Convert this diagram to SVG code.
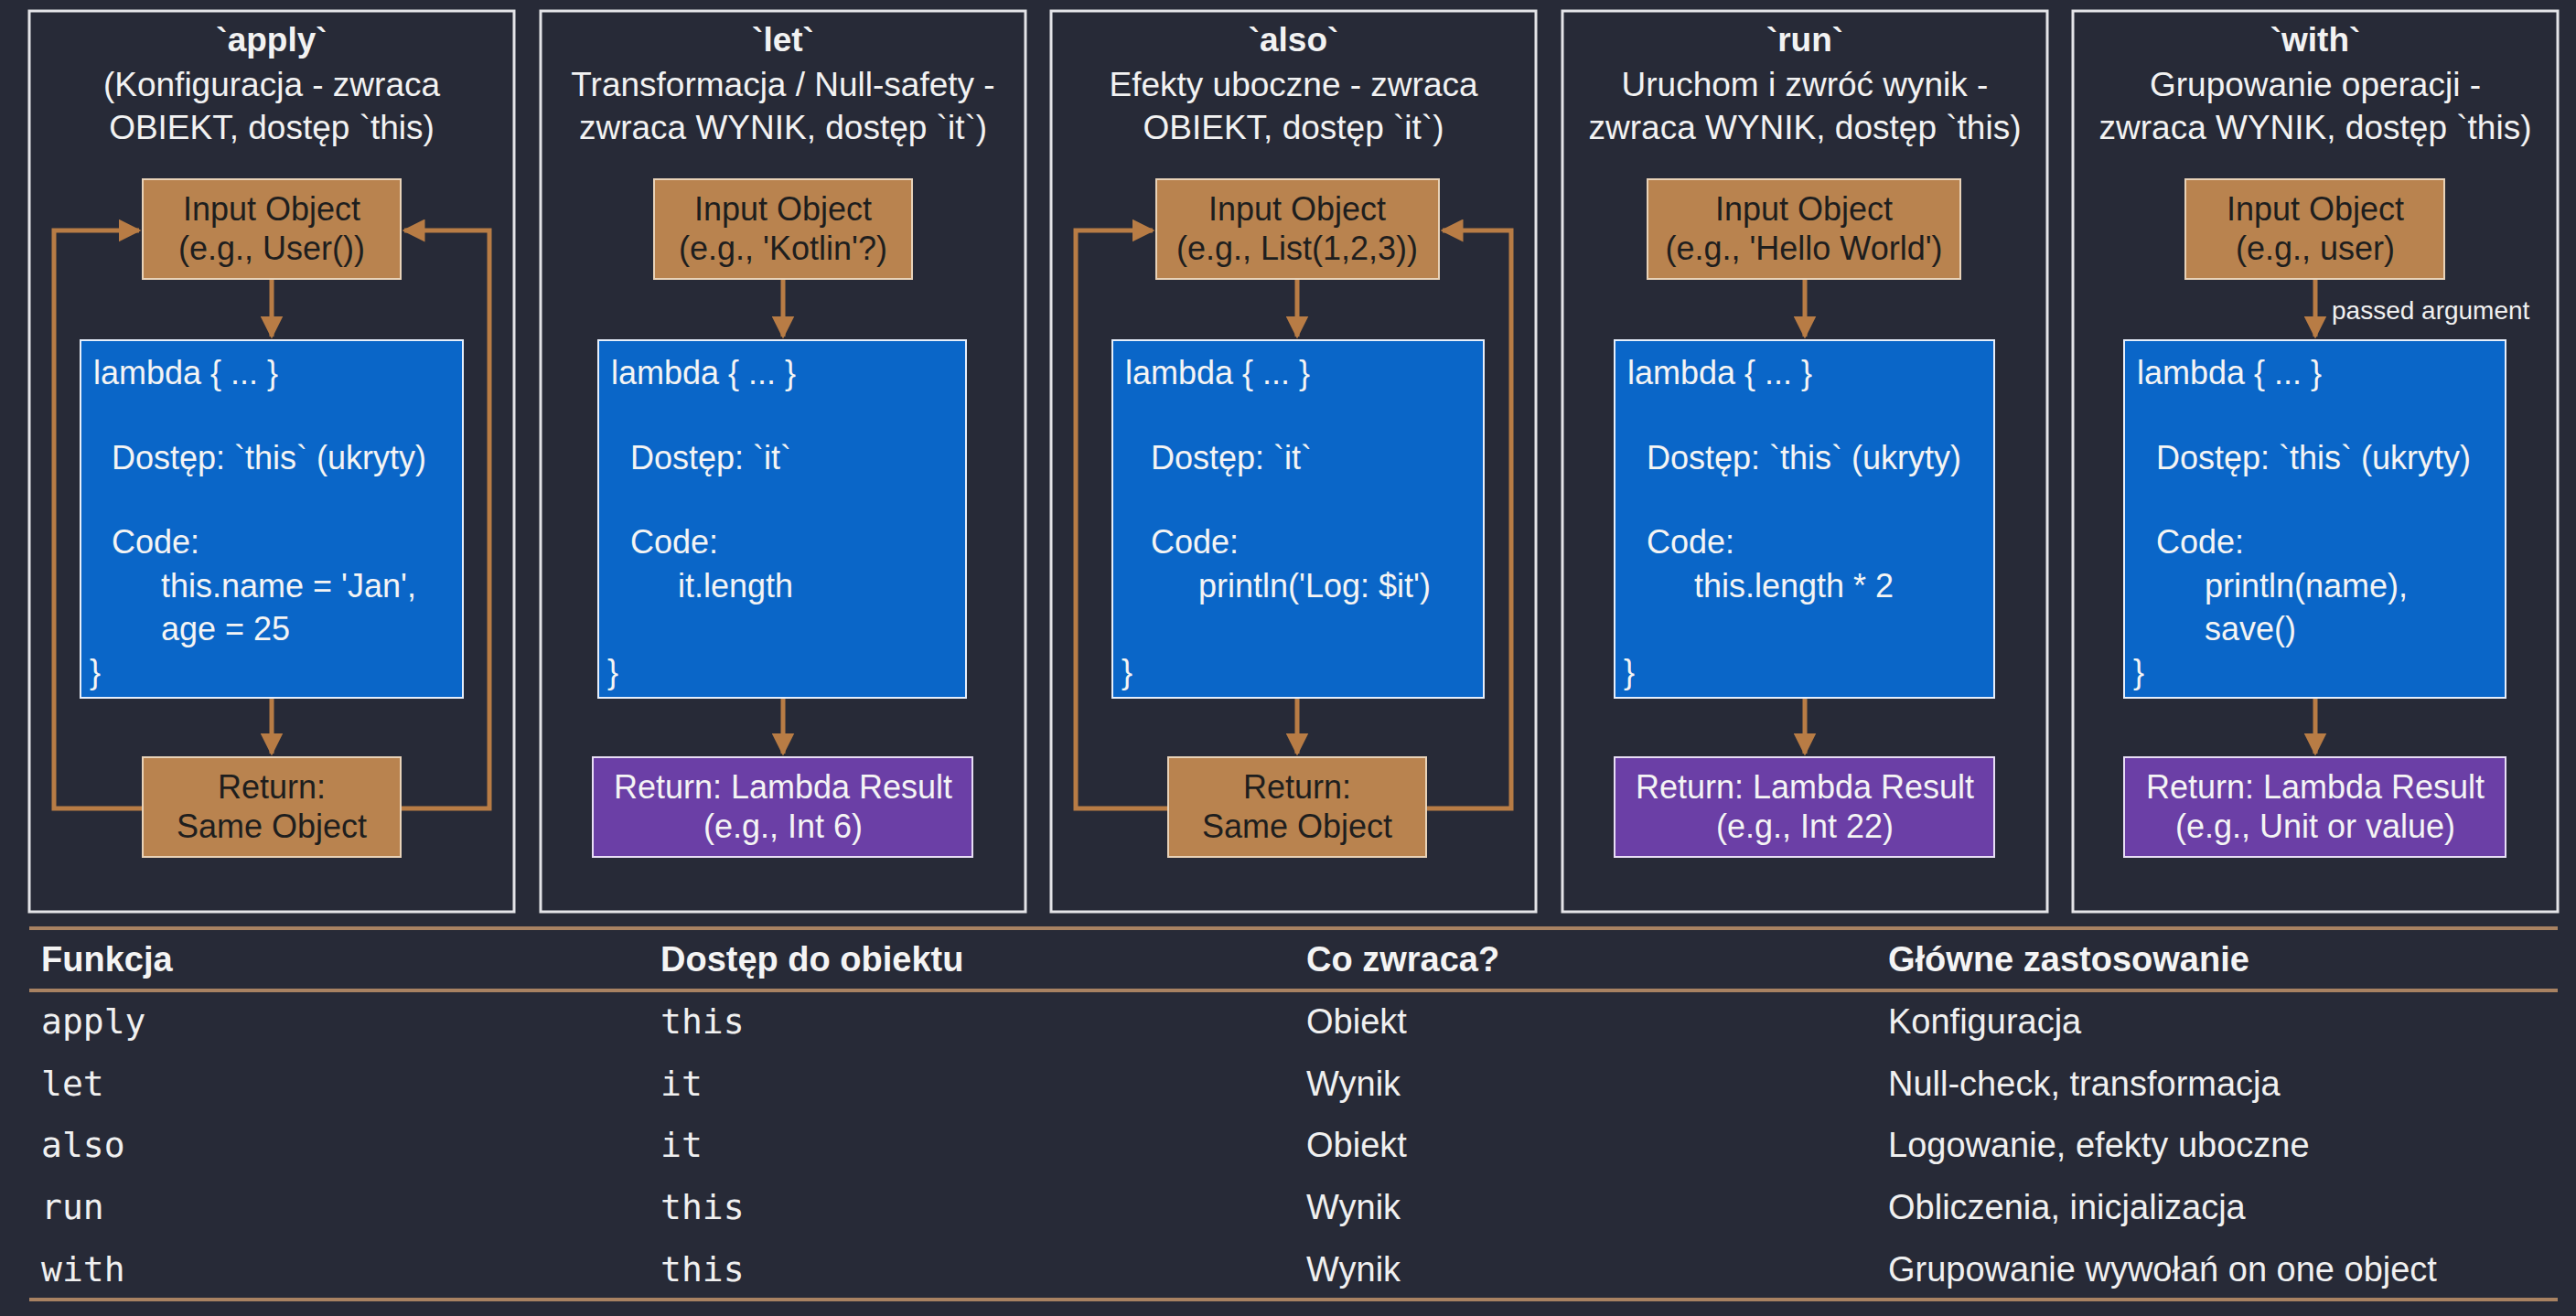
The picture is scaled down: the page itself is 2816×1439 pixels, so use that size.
<svg xmlns="http://www.w3.org/2000/svg" width="2816" height="1439" viewBox="0 0 2816 1439">
<style>
.bg{fill:#272a37}
.panel{fill:none;stroke:#e4e4e8;stroke-width:3}
.t{font-family:"Liberation Sans",Arial,sans-serif;fill:#f2f2f2;font-size:37px;text-anchor:middle}
.tb{font-weight:bold}
.or{fill:#b9834f;stroke:#e8d2b8;stroke-width:2}
.bl{fill:#0a66c8;stroke:#e6eefa;stroke-width:2}
.pu{fill:#6b3fa6;stroke:#e8def5;stroke-width:2}
.bt{font-family:"Liberation Sans",Arial,sans-serif;font-size:36px;text-anchor:middle;fill:#1e1e1e}
.wt{font-family:"Liberation Sans",Arial,sans-serif;font-size:36px;fill:#f4f4f4}
.c{fill:none;stroke:#b87c45;stroke-width:5}
.h{font-family:"Liberation Sans",Arial,sans-serif;font-size:38px;font-weight:bold;fill:#f4f4f4}
.r{font-family:"Liberation Sans",Arial,sans-serif;font-size:38px;fill:#f0f0f0}
.m{font-family:"DejaVu Sans Mono","Liberation Mono",monospace;font-size:38px;fill:#f0f0f0}
.rule{stroke:#a88262;stroke-width:4}
</style>
<defs><marker id="a" viewBox="0 0 10 10" refX="9" refY="5" markerWidth="5" markerHeight="5" orient="auto"><path d="M0,0 L10,5 L0,10 z" fill="#b87c45"/></marker></defs>
<rect class="bg" width="2816" height="1439"/>
<g id="panels">
<rect class="panel" x="32" y="12" width="530" height="985"/>
<rect class="panel" x="591" y="12" width="530" height="985"/>
<rect class="panel" x="1149" y="12" width="530" height="985"/>
<rect class="panel" x="1708" y="12" width="530" height="985"/>
<rect class="panel" x="2266" y="12" width="530" height="985"/>
</g>
<g id="titles">
<text class="t tb" x="297" y="56">`apply`</text>
<text class="t" x="297" y="105">(Konfiguracja - zwraca</text>
<text class="t" x="297" y="152">OBIEKT, dostęp `this)</text>
<text class="t tb" x="856" y="56">`let`</text>
<text class="t" x="856" y="105">Transformacja / Null-safety -</text>
<text class="t" x="856" y="152">zwraca WYNIK, dostęp `it`)</text>
<text class="t tb" x="1414" y="56">`also`</text>
<text class="t" x="1414" y="105">Efekty uboczne - zwraca</text>
<text class="t" x="1414" y="152">OBIEKT, dostęp `it`)</text>
<text class="t tb" x="1973" y="56">`run`</text>
<text class="t" x="1973" y="105">Uruchom i zwróć wynik -</text>
<text class="t" x="1973" y="152">zwraca WYNIK, dostęp `this)</text>
<text class="t tb" x="2531" y="56">`with`</text>
<text class="t" x="2531" y="105">Grupowanie operacji -</text>
<text class="t" x="2531" y="152">zwraca WYNIK, dostęp `this)</text>
</g>
<g id="connectors">
<path class="c" d="M297,305 V368" marker-end="url(#a)"/>
<path class="c" d="M297,763 V824" marker-end="url(#a)"/>
<path class="c" d="M156,884 H59 V252 H152" marker-end="url(#a)"/>
<path class="c" d="M438,884 H535 V252 H442" marker-end="url(#a)"/>
<path class="c" d="M856,305 V368" marker-end="url(#a)"/>
<path class="c" d="M856,763 V824" marker-end="url(#a)"/>
<path class="c" d="M1418,305 V368" marker-end="url(#a)"/>
<path class="c" d="M1418,763 V824" marker-end="url(#a)"/>
<path class="c" d="M1277,884 H1176 V252 H1260" marker-end="url(#a)"/>
<path class="c" d="M1559,884 H1652 V252 H1577" marker-end="url(#a)"/>
<path class="c" d="M1973,305 V368" marker-end="url(#a)"/>
<path class="c" d="M1973,763 V824" marker-end="url(#a)"/>
<path class="c" d="M2531,305 V368" marker-end="url(#a)"/>
<path class="c" d="M2531,763 V824" marker-end="url(#a)"/>
<text x="2549" y="349" font-family="Liberation Sans,Arial,sans-serif" font-size="28" fill="#f0f0f0">passed argument</text>
</g>
<g id="apply-input"><rect class="or" x="156" y="196" width="282" height="109"/><text class="bt" x="297" y="241">Input Object</text><text class="bt" x="297" y="284">(e.g., User())</text></g>
<g id="apply-lambda"><rect class="bl" x="88" y="372" width="418" height="391"/>
<text class="wt" x="102" y="420">lambda { ... }</text><text class="wt" x="122" y="513">Dostęp: `this` (ukryty)</text><text class="wt" x="122" y="605">Code:</text><text class="wt" x="176" y="653">this.name = 'Jan',</text><text class="wt" x="176" y="700">age = 25</text><text class="wt" x="98" y="747">}</text></g>
<g id="apply-return"><rect class="or" x="156" y="828" width="282" height="109"/><text class="bt" x="297" y="873">Return:</text><text class="bt" x="297" y="916">Same Object</text></g>

<g id="let-input"><rect class="or" x="715" y="196" width="282" height="109"/><text class="bt" x="856" y="241">Input Object</text><text class="bt" x="856" y="284">(e.g., 'Kotlin'?)</text></g>
<g id="let-lambda"><rect class="bl" x="654" y="372" width="402" height="391"/>
<text class="wt" x="668" y="420">lambda { ... }</text><text class="wt" x="689" y="513">Dostęp: `it`</text><text class="wt" x="689" y="605">Code:</text><text class="wt" x="741" y="653">it.length</text><text class="wt" x="664" y="747">}</text></g>
<g id="let-return"><rect class="pu" x="648" y="828" width="415" height="109"/><text class="wt" text-anchor="middle" x="856" y="873">Return: Lambda Result</text><text class="wt" text-anchor="middle" x="856" y="916">(e.g., Int 6)</text></g>

<g id="also-input"><rect class="or" x="1264" y="196" width="309" height="109"/><text class="bt" x="1418" y="241">Input Object</text><text class="bt" x="1418" y="284">(e.g., List(1,2,3))</text></g>
<g id="also-lambda"><rect class="bl" x="1216" y="372" width="406" height="391"/>
<text class="wt" x="1230" y="420">lambda { ... }</text><text class="wt" x="1258" y="513">Dostęp: `it`</text><text class="wt" x="1258" y="605">Code:</text><text class="wt" x="1310" y="653">println('Log: $it')</text><text class="wt" x="1226" y="747">}</text></g>
<g id="also-return"><rect class="or" x="1277" y="828" width="282" height="109"/><text class="bt" x="1418" y="873">Return:</text><text class="bt" x="1418" y="916">Same Object</text></g>

<g id="run-input"><rect class="or" x="1801" y="196" width="342" height="109"/><text class="bt" x="1972" y="241">Input Object</text><text class="bt" x="1972" y="284">(e.g., 'Hello World')</text></g>
<g id="run-lambda"><rect class="bl" x="1765" y="372" width="415" height="391"/>
<text class="wt" x="1779" y="420">lambda { ... }</text><text class="wt" x="1800" y="513">Dostęp: `this` (ukryty)</text><text class="wt" x="1800" y="605">Code:</text><text class="wt" x="1852" y="653">this.length * 2</text><text class="wt" x="1775" y="747">}</text></g>
<g id="run-return"><rect class="pu" x="1765" y="828" width="415" height="109"/><text class="wt" text-anchor="middle" x="1973" y="873">Return: Lambda Result</text><text class="wt" text-anchor="middle" x="1973" y="916">(e.g., Int 22)</text></g>

<g id="with-input"><rect class="or" x="2389" y="196" width="283" height="109"/><text class="bt" x="2531" y="241">Input Object</text><text class="bt" x="2531" y="284">(e.g., user)</text></g>
<g id="with-lambda"><rect class="bl" x="2322" y="372" width="417" height="391"/>
<text class="wt" x="2336" y="420">lambda { ... }</text><text class="wt" x="2357" y="513">Dostęp: `this` (ukryty)</text><text class="wt" x="2357" y="605">Code:</text><text class="wt" x="2410" y="653">println(name),</text><text class="wt" x="2410" y="700">save()</text><text class="wt" x="2332" y="747">}</text></g>
<g id="with-return"><rect class="pu" x="2322" y="828" width="417" height="109"/><text class="wt" text-anchor="middle" x="2531" y="873">Return: Lambda Result</text><text class="wt" text-anchor="middle" x="2531" y="916">(e.g., Unit or value)</text></g>

<g id="table">
<line class="rule" x1="32" y1="1015" x2="2796" y2="1015"/>
<line class="rule" x1="32" y1="1083" x2="2796" y2="1083"/>
<line class="rule" x1="32" y1="1421" x2="2796" y2="1421"/>
<text class="h" x="45" y="1062">Funkcja</text><text class="h" x="722" y="1062">Dostęp do obiektu</text><text class="h" x="1428" y="1062">Co zwraca?</text><text class="h" x="2064" y="1062">Główne zastosowanie</text>
<text class="m" x="45" y="1130">apply</text><text class="m" x="722" y="1130">this</text><text class="r" x="1428" y="1130">Obiekt</text><text class="r" x="2064" y="1130">Konfiguracja</text>
<text class="m" x="45" y="1198">let</text><text class="m" x="722" y="1198">it</text><text class="r" x="1428" y="1198">Wynik</text><text class="r" x="2064" y="1198">Null-check, transformacja</text>
<text class="m" x="45" y="1265">also</text><text class="m" x="722" y="1265">it</text><text class="r" x="1428" y="1265">Obiekt</text><text class="r" x="2064" y="1265">Logowanie, efekty uboczne</text>
<text class="m" x="45" y="1333">run</text><text class="m" x="722" y="1333">this</text><text class="r" x="1428" y="1333">Wynik</text><text class="r" x="2064" y="1333">Obliczenia, inicjalizacja</text>
<text class="m" x="45" y="1401">with</text><text class="m" x="722" y="1401">this</text><text class="r" x="1428" y="1401">Wynik</text><text class="r" x="2064" y="1401">Grupowanie wywołań on one object</text>
</g>
</svg>
